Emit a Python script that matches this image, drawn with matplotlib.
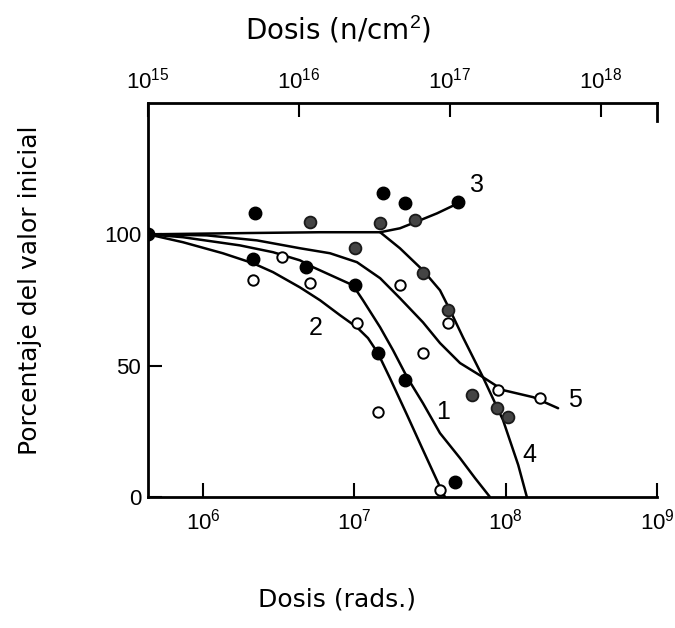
import matplotlib.pyplot as plt
from matplotlib.ticker import NullLocator

plt.rcParams['font.family'] = ['Liberation Sans', 'DejaVu Sans']
plt.rcParams['mathtext.fontset'] = 'custom'
plt.rcParams['mathtext.rm'] = 'Liberation Sans'

# curves: dose (rads) and percentage of initial value
dose_1 = [4.33e5, 7.36e5, 1.75e6, 2.9e6, 4.37e6, 5.33e6, 9.79e6, 1.14e7, 1.48e7,
          1.8e7, 2.23e7, 2.84e7, 3.68e7, 4.99e7, 6.27e7, 7.87e7]
pct_1 = [100, 98.9, 95.8, 93.2, 90.1, 87.5, 80.6, 74.9, 64.6,
         55.9, 45.6, 35.7, 24.3, 14.8, 7.2, 0]

dose_2 = [4.33e5, 7.36e5, 1.35e6, 2.14e6, 2.9e6, 4.37e6, 5.93e6, 8.04e6, 1.04e7,
          1.23e7, 1.43e7, 1.72e7, 2.23e7, 2.84e7, 3.68e7, 3.97e7]
pct_2 = [100, 97.0, 92.8, 89.0, 85.6, 79.8, 74.9, 69.2, 64.6,
         60.5, 54.8, 45.2, 31.2, 17.9, 3.8, 0]

dose_3 = [4.33e5, 2.04e6, 5.93e6, 1.48e7, 2.0e7, 2.52e7, 3.52e7, 4.84e7]
pct_3 = [100, 100.5, 100.8, 100.8, 102.3, 104.6, 108.0, 111.8]

dose_4 = [1.48e7, 2.0e7, 2.84e7, 3.68e7, 4.29e7, 5.22e7, 7.08e7, 9.6e7, 1.21e8, 1.38e8]
pct_4 = [100.8, 94.7, 86.3, 78.7, 71.1, 60.8, 45.6, 29.3, 12.2, 0]

dose_5 = [4.33e5, 1.06e6, 2.27e6, 4.37e6, 6.9e6, 1.04e7, 1.48e7, 2.0e7, 2.84e7,
          3.68e7, 4.99e7, 7.08e7, 9.6e7, 1.52e8, 2.22e8]
pct_5 = [100, 99.6, 97.7, 94.7, 92.8, 89.4, 83.3, 75.7, 66.5,
         58.6, 51.0, 45.6, 40.7, 38.0, 33.8]

# measured points
filled_dose = [4.33e5, 2.2e6, 2.14e6, 4.79e6, 1.55e7, 2.16e7, 1.01e7, 1.43e7, 2.16e7, 4.84e7, 4.62e7]
filled_pct = [100, 108.0, 90.5, 87.5, 115.6, 111.8, 80.6, 54.8, 44.5, 112.2, 5.7]

hatched_dose = [5.09e6, 2.52e7, 1.01e7, 2.84e7, 4.16e7, 5.98e7, 8.77e7, 1.035e8, 1.48e7]
hatched_pct = [104.6, 105.3, 94.7, 85.2, 71.1, 38.8, 33.8, 30.4, 104.2]

open_dose = [2.14e6, 3.32e6, 5.09e6, 2.0e7, 1.04e7, 2.84e7, 1.43e7, 4.16e7, 8.89e7, 1.69e8, 3.68e7]
open_pct = [82.5, 91.3, 81.4, 80.6, 66.2, 54.8, 32.3, 66.2, 40.7, 37.6, 2.7]

rad_ticks = [1e6, 1e7, 1e8, 1e9]
rad_labels = [r'$\mathregular{10^{6}}$', r'$\mathregular{10^{7}}$',
              r'$\mathregular{10^{8}}$', r'$\mathregular{10^{9}}$']
flux_ticks = [1e15, 1e16, 1e17, 1e18]
flux_labels = [r'$\mathregular{10^{15}}$', r'$\mathregular{10^{16}}$',
               r'$\mathregular{10^{17}}$', r'$\mathregular{10^{18}}$']
pct_ticks = [0, 50, 100]

fig = plt.figure(figsize=(6.75, 6.28), dpi=100)
ax = fig.add_axes([148 / 675, 1 - 497 / 628, 509 / 675, 394 / 628])
ax.set_xscale('log')
ax.set_xlim(10 ** 5.636, 1e9)
ax.set_ylim(0, 150)

for d, p in [(dose_1, pct_1), (dose_2, pct_2), (dose_3, pct_3), (dose_4, pct_4), (dose_5, pct_5)]:
    ax.plot(d, p, color='black', lw=1.8, solid_capstyle='round', zorder=2)

ax.plot(filled_dose, filled_pct, 'o', ms=9, mfc='black', mec='black', zorder=3)
ax.plot(hatched_dose, hatched_pct, 'o', ms=8.5, mfc='#444444', mec='#1a1a1a', mew=1.3, zorder=3)
ax.plot(open_dose, open_pct, 'o', ms=7.5, mfc='white', mec='black', mew=1.4, zorder=3)

for txt, xd, yd in [('1', 3.85e7, 32.3), ('2', 5.57e6, 64.3), ('3', 6.46e7, 118.6),
                    ('4', 1.43e8, 16.0), ('5', 2.87e8, 36.9)]:
    ax.text(xd, yd, txt, fontsize=18, ha='center', va='center')

ax.set_xticks(rad_ticks)
ax.set_xticklabels(rad_labels)
ax.xaxis.set_minor_locator(NullLocator())
ax.set_yticks(pct_ticks)
ax.set_yticklabels([str(v) for v in pct_ticks])
ax.tick_params(direction='in', length=10, width=1.5, labelsize=16)
ax.tick_params(axis='x', pad=8)
ax.tick_params(axis='y', pad=5)
for s in ['top', 'right']:
    ax.spines[s].set_visible(False)
for s in ['left', 'bottom']:
    ax.spines[s].set_linewidth(2)

ax2 = ax.twiny()
ax2.set_xscale('log')
ax2.set_xlim(1e15, 10 ** (15 + 509 / 151))
ax2.set_xticks(flux_ticks)
ax2.set_xticklabels(flux_labels)
ax2.xaxis.set_minor_locator(NullLocator())
ax2.tick_params(direction='in', length=10, width=1.5, labelsize=16, pad=7)
for s in ['left', 'right', 'bottom']:
    ax2.spines[s].set_visible(False)
ax2.spines['top'].set_linewidth(2)

# short end piece of the frame at top right
ax.plot([1, 1], [1, 1 - 18 / 394], color='black', lw=2, transform=ax.transAxes, clip_on=False)

fig.text(338 / 675, 1 - 30 / 628, r'Dosis (n/cm$^{2}$)', fontsize=20, family='DejaVu Sans',
         ha='center', va='center')
fig.text(337 / 675, 1 - 600 / 628, 'Dosis (rads.)', fontsize=18, family='DejaVu Sans',
         ha='center', va='center')
fig.text(30 / 675, 1 - 290 / 628, 'Porcentaje del valor inicial', fontsize=18,
         family='DejaVu Sans', rotation=90, ha='center', va='center')

fig.savefig('out.png', dpi=100)
